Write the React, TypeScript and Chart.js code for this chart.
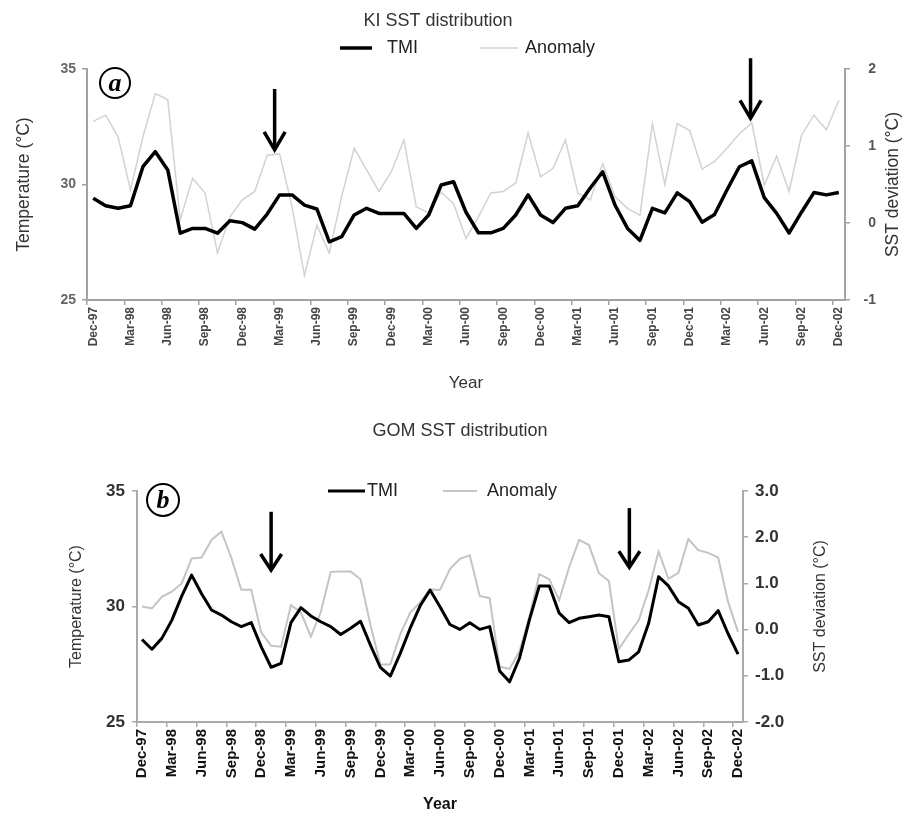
import { useEffect, useRef } from 'react';
import { Chart, registerables } from 'chart.js';

Chart.register(...registerables);

const FONT = "'Liberation Sans', Arial, Helvetica, sans-serif";
const SERIF = "'Liberation Serif', 'DejaVu Serif', serif";

// ---------------- data ----------------
const CATEGORIES = [
  'Dec-97', 'Jan-98', 'Feb-98', 'Mar-98', 'Apr-98', 'May-98', 'Jun-98', 'Jul-98', 'Aug-98', 'Sep-98', 'Oct-98', 'Nov-98',
  'Dec-98', 'Jan-99', 'Feb-99', 'Mar-99', 'Apr-99', 'May-99', 'Jun-99', 'Jul-99', 'Aug-99', 'Sep-99', 'Oct-99', 'Nov-99',
  'Dec-99', 'Jan-00', 'Feb-00', 'Mar-00', 'Apr-00', 'May-00', 'Jun-00', 'Jul-00', 'Aug-00', 'Sep-00', 'Oct-00', 'Nov-00',
  'Dec-00', 'Jan-01', 'Feb-01', 'Mar-01', 'Apr-01', 'May-01', 'Jun-01', 'Jul-01', 'Aug-01', 'Sep-01', 'Oct-01', 'Nov-01',
  'Dec-01', 'Jan-02', 'Feb-02', 'Mar-02', 'Apr-02', 'May-02', 'Jun-02', 'Jul-02', 'Aug-02', 'Sep-02', 'Oct-02', 'Nov-02',
  'Dec-02',
];

// (a) KI
const KI_TMI = [
  29.40, 29.08, 28.97, 29.08, 30.77, 31.42, 30.63, 27.89, 28.10, 28.10, 27.89, 28.43,
  28.35, 28.07, 28.72, 29.55, 29.55, 29.11, 28.94, 27.52, 27.74, 28.68, 28.97, 28.75,
  28.75, 28.75, 28.10, 28.68, 29.98, 30.12, 28.80, 27.91, 27.91, 28.10, 28.68, 29.55,
  28.68, 28.35, 28.97, 29.08, 29.85, 30.55, 29.10, 28.10, 27.58, 28.97, 28.77, 29.64,
  29.26, 28.37, 28.70, 29.76, 30.77, 31.02, 29.43, 28.75, 27.90, 28.80, 29.65, 29.55,
  29.65,
];
const KI_ANOMALY = [
  1.32, 1.40, 1.12, 0.43, 1.12, 1.68, 1.60, 0.04, 0.58, 0.39, -0.39, 0.08,
  0.30, 0.41, 0.88, 0.90, 0.21, -0.68, -0.03, -0.39, 0.35, 0.97, 0.69, 0.41,
  0.67, 1.08, 0.21, 0.13, 0.40, 0.25, -0.20, 0.08, 0.39, 0.41, 0.52, 1.17,
  0.60, 0.71, 1.08, 0.39, 0.30, 0.77, 0.34, 0.19, 0.10, 1.29, 0.50, 1.29,
  1.20, 0.70, 0.80, 0.97, 1.16, 1.30, 0.49, 0.87, 0.41, 1.14, 1.40, 1.21,
  1.59,
];
const KI_TEMP_RANGE = [25, 35];
const KI_DEV_RANGE = [-1, 2];
const KI_ARROW_AT = [14.6, 52.9];
const KI_ARROW_FROM = [1.74, 2.14];
const KI_ARROW_TO = [0.95, 1.36];

// (b) GOM
const GOM_TMI = [
  28.57, 28.15, 28.62, 29.40, 30.45, 31.36, 30.55, 29.85, 29.63, 29.34, 29.13, 29.30,
  28.26, 27.37, 27.54, 29.30, 29.95, 29.59, 29.34, 29.13, 28.79, 29.06, 29.36, 28.33,
  27.36, 26.99, 27.97, 29.06, 30.03, 30.71, 29.99, 29.22, 29.01, 29.30, 29.01, 29.13,
  27.21, 26.74, 27.76, 29.42, 30.89, 30.89, 29.71, 29.30, 29.49, 29.56, 29.63, 29.56,
  27.61, 27.68, 28.04, 29.27, 31.29, 30.89, 30.21, 29.92, 29.20, 29.34, 29.82, 28.82,
  27.94,
];
const GOM_ANOMALY = [
  0.50, 0.46, 0.71, 0.82, 1.00, 1.54, 1.56, 1.94, 2.12, 1.55, 0.86, 0.86,
  -0.06, -0.35, -0.37, 0.53, 0.37, -0.15, 0.38, 1.25, 1.26, 1.26, 1.09, 0.10,
  -0.76, -0.75, -0.10, 0.37, 0.59, 0.87, 0.86, 1.31, 1.53, 1.61, 0.73, 0.68,
  -0.80, -0.85, -0.47, 0.28, 1.20, 1.09, 0.64, 1.35, 1.94, 1.83, 1.22, 1.05,
  -0.42, -0.10, 0.20, 0.85, 1.69, 1.10, 1.23, 1.96, 1.72, 1.66, 1.56, 0.60,
  -0.05,
];
const GOM_TEMP_RANGE = [25, 35];
const GOM_DEV_RANGE = [-2, 3];
const GOM_ARROW_AT = [13.0, 49.06];
const GOM_ARROW_FROM = [2.55, 2.63];
const GOM_ARROW_TO = [1.29, 1.35];

// ---------------- decoration plugin ----------------
const panelDecor = {
  id: 'panelDecor',
  afterDraw(chart: any, _args: any, o: any) {
    const { ctx, chartArea } = chart;
    const xs = chart.scales.x;
    const ys = chart.scales.y1;
    ctx.save();

    // arrows (anchored on the category / deviation scales)
    ctx.strokeStyle = '#000';
    ctx.lineWidth = o.arrowWidth;
    ctx.lineJoin = 'miter';
    ctx.lineCap = 'butt';
    for (let i = 0; i < o.arrowAt.length; i++) {
      const x = xs.getPixelForValue(o.arrowAt[i]);
      const yTop = ys.getPixelForValue(o.arrowFrom[i]);
      const yTip = ys.getPixelForValue(o.arrowTo[i]);
      ctx.beginPath();
      ctx.moveTo(x, yTop);
      ctx.lineTo(x, yTip - 3);
      ctx.stroke();
      ctx.beginPath();
      ctx.moveTo(x - o.headHalf, yTip - o.headLen);
      ctx.lineTo(x, yTip);
      ctx.lineTo(x + o.headHalf, yTip - o.headLen);
      ctx.stroke();
    }

    // circled panel tag
    const cx = chartArea.left + o.tagDx;
    const cy = chartArea.top + o.tagDy;
    ctx.lineWidth = 2;
    ctx.beginPath();
    ctx.arc(cx, cy, o.tagR, 0, Math.PI * 2);
    ctx.fillStyle = '#fff';
    ctx.fill();
    ctx.stroke();
    ctx.fillStyle = '#000';
    ctx.font = `italic bold ${o.tagSize}px ${SERIF}`;
    ctx.textAlign = 'center';
    ctx.textBaseline = 'middle';
    ctx.fillText(o.tag, cx, cy + 1);

    // series key
    ctx.font = `${o.keySize}px ${FONT}`;
    ctx.textAlign = 'left';
    ctx.textBaseline = 'middle';
    chart.data.datasets.forEach((ds: any, i: number) => {
      const it = o.key[i];
      ctx.strokeStyle = ds.borderColor;
      ctx.lineWidth = ds.borderWidth;
      ctx.beginPath();
      ctx.moveTo(it.lineX, o.keyY);
      ctx.lineTo(it.lineX + it.lineW, o.keyY);
      ctx.stroke();
      ctx.fillStyle = '#222';
      ctx.fillText(ds.label, it.textX, o.keyY);
    });

    // right axis title (reads bottom to top)
    ctx.translate(o.rightTitleX, (chartArea.top + chartArea.bottom) / 2);
    ctx.rotate(-Math.PI / 2);
    ctx.font = `${o.rightTitleSize}px ${FONT}`;
    ctx.fillStyle = '#333';
    ctx.textAlign = 'center';
    ctx.textBaseline = 'middle';
    ctx.fillText(o.rightTitle, 0, 0);
    ctx.restore();
  },
};

// ---------------- configs ----------------
function kiConfig(): any {
  const AXIS = '#a2a2a2';
  return {
    type: 'line',
    data: {
      labels: CATEGORIES,
      datasets: [
        { label: 'TMI', data: KI_TMI, yAxisID: 'y', borderColor: '#000', borderWidth: 3.5, pointRadius: 0, tension: 0, borderJoinStyle: 'round' },
        { label: 'Anomaly', data: KI_ANOMALY, yAxisID: 'y1', borderColor: '#d2d2d2', borderWidth: 1.5, pointRadius: 0, tension: 0 },
      ],
    },
    options: {
      responsive: false,
      animation: false,
      layout: { padding: { left: 0, right: 26, top: 0, bottom: 0 } },
      plugins: {
        legend: { display: false },
        tooltip: { enabled: false },
        title: {
          display: true,
          text: 'KI SST distribution',
          color: '#333',
          font: { family: FONT, size: 18, weight: 'normal' },
          padding: { top: 10.2, bottom: 37.2 },
        },
        panelDecor: {
          arrowAt: KI_ARROW_AT, arrowFrom: KI_ARROW_FROM, arrowTo: KI_ARROW_TO,
          arrowWidth: 3.5, headHalf: 10.5, headLen: 18,
          tag: 'a', tagDx: 28, tagDy: 14, tagR: 15, tagSize: 26,
          keyY: 48, keySize: 18,
          key: [
            { lineX: 340, lineW: 32, textX: 387 },
            { lineX: 480, lineW: 38, textX: 525 },
          ],
          rightTitle: 'SST deviation (°C)', rightTitleX: 893, rightTitleSize: 17.5,
        },
      },
      scales: {
        x: {
          type: 'category',
          offset: true,
          afterFit: (s: any) => { s.height = 100; },
          grid: {
            display: true, drawOnChartArea: false, offset: true, tickLength: 5, lineWidth: 1.5,
            color: (c: any) => (c.index % 3 === 0 ? AXIS : 'rgba(0,0,0,0)'),
          },
          border: { display: true, color: AXIS, width: 2 },
          ticks: {
            autoSkip: false, minRotation: 90, maxRotation: 90, padding: 2,
            color: '#444', font: { family: FONT, size: 12, weight: 'bold' },
            callback: function (this: any, v: any, i: number) { return i % 3 === 0 ? this.getLabelForValue(v) : ''; },
          },
          title: { display: true, text: 'Year', color: '#333', font: { family: FONT, size: 17 }, padding: { top: 0, bottom: 6.8 } },
        },
        y: {
          position: 'left',
          min: KI_TEMP_RANGE[0], max: KI_TEMP_RANGE[1],
          afterFit: (s: any) => { s.width = 87; },
          grid: { drawOnChartArea: false, tickLength: 5, color: AXIS, lineWidth: 1.5 },
          border: { display: true, color: AXIS, width: 2 },
          ticks: { stepSize: 5, padding: 6, color: '#666', font: { family: FONT, size: 14, weight: 'bold' } },
          title: { display: true, text: 'Temperature (°C)', color: '#333', font: { family: FONT, size: 17.5 }, padding: { top: 13.5, bottom: 0 } },
        },
        y1: {
          position: 'right',
          min: KI_DEV_RANGE[0], max: KI_DEV_RANGE[1],
          afterFit: (s: any) => { s.width = 31; },
          grid: { drawOnChartArea: false, tickLength: 5, color: AXIS, lineWidth: 1.5 },
          border: { display: true, color: AXIS, width: 2 },
          ticks: { stepSize: 1, padding: 10.5, crossAlign: 'far', color: '#555', font: { family: FONT, size: 14, weight: 'bold' } },
        },
      },
    },
    plugins: [panelDecor],
  };
}

function gomConfig(): any {
  const AXIS = '#aaaaaa';
  return {
    type: 'line',
    data: {
      labels: CATEGORIES,
      datasets: [
        { label: 'TMI', data: GOM_TMI, yAxisID: 'y', borderColor: '#000', borderWidth: 3, pointRadius: 0, tension: 0, borderJoinStyle: 'round' },
        { label: 'Anomaly', data: GOM_ANOMALY, yAxisID: 'y1', borderColor: '#c4c4c4', borderWidth: 2, pointRadius: 0, tension: 0 },
      ],
    },
    options: {
      responsive: false,
      animation: false,
      layout: { padding: { left: 18, right: 0, top: 0, bottom: 0 } },
      plugins: {
        legend: { display: false },
        tooltip: { enabled: false },
        title: {
          display: true,
          text: 'GOM SST distribution',
          color: '#333',
          font: { family: FONT, size: 18, weight: 'normal' },
          padding: { top: 20.7, bottom: 48.7 },
        },
        panelDecor: {
          arrowAt: GOM_ARROW_AT, arrowFrom: GOM_ARROW_FROM, arrowTo: GOM_ARROW_TO,
          arrowWidth: 3.5, headHalf: 10.5, headLen: 16,
          tag: 'b', tagDx: 26, tagDy: 9, tagR: 16, tagSize: 26,
          keyY: 91, keySize: 18,
          key: [
            { lineX: 328, lineW: 37, textX: 367 },
            { lineX: 443, lineW: 34, textX: 487 },
          ],
          rightTitle: 'SST deviation (°C)', rightTitleX: 821, rightTitleSize: 16,
        },
      },
      scales: {
        x: {
          type: 'category',
          offset: true,
          afterFit: (s: any) => { s.height = 92; },
          grid: {
            display: true, drawOnChartArea: false, offset: true, tickLength: 5, lineWidth: 1.5,
            color: (c: any) => (c.index % 3 === 0 ? AXIS : 'rgba(0,0,0,0)'),
          },
          border: { display: true, color: AXIS, width: 2 },
          ticks: {
            autoSkip: false, minRotation: 90, maxRotation: 90, padding: 2,
            color: '#111', font: { family: FONT, size: 15, weight: 'bold' },
            callback: function (this: any, v: any, i: number) { return i % 3 === 0 ? this.getLabelForValue(v) : ''; },
          },
          title: { display: true, text: 'Year', color: '#111', font: { family: FONT, size: 16, weight: 'bold' }, padding: { top: 0, bottom: 0 } },
        },
        y: {
          position: 'left',
          min: GOM_TEMP_RANGE[0], max: GOM_TEMP_RANGE[1],
          afterFit: (s: any) => { s.width = 119; },
          grid: { drawOnChartArea: false, tickLength: 5, color: AXIS, lineWidth: 1.5 },
          border: { display: true, color: AXIS, width: 2 },
          ticks: { stepSize: 5, padding: 7, color: '#333', font: { family: FONT, size: 17, weight: 'bold' } },
          title: { display: true, text: 'Temperature (°C)', color: '#333', font: { family: FONT, size: 16 }, padding: { top: 49.4, bottom: 0 } },
        },
        y1: {
          position: 'right',
          min: GOM_DEV_RANGE[0], max: GOM_DEV_RANGE[1],
          afterFit: (s: any) => { s.width = 159; },
          grid: { drawOnChartArea: false, tickLength: 5, color: AXIS, lineWidth: 1.5 },
          border: { display: true, color: AXIS, width: 2 },
          ticks: {
            stepSize: 1, padding: 7, color: '#333', font: { family: FONT, size: 17, weight: 'bold' },
            callback: (v: any) => Number(v).toFixed(1),
          },
        },
      },
    },
    plugins: [panelDecor],
  };
}

function Panel({ top, height, makeConfig }: { top: number; height: number; makeConfig: () => any }) {
  const ref = useRef<HTMLCanvasElement>(null);
  useEffect(() => {
    const chart = new Chart(ref.current as HTMLCanvasElement, makeConfig());
    return () => chart.destroy();
  }, [makeConfig]);
  return (
    <canvas
      ref={ref}
      width={902}
      height={height}
      style={{ position: 'absolute', left: 0, top, width: 902, height, display: 'block' }}
    />
  );
}

export default function App() {
  return (
    <div style={{ position: 'absolute', left: 0, top: 0, width: 902, height: 814, background: '#fff', overflow: 'hidden' }}>
      <Panel top={0} height={400} makeConfig={kiConfig} />
      <Panel top={400} height={414} makeConfig={gomConfig} />
    </div>
  );
}
